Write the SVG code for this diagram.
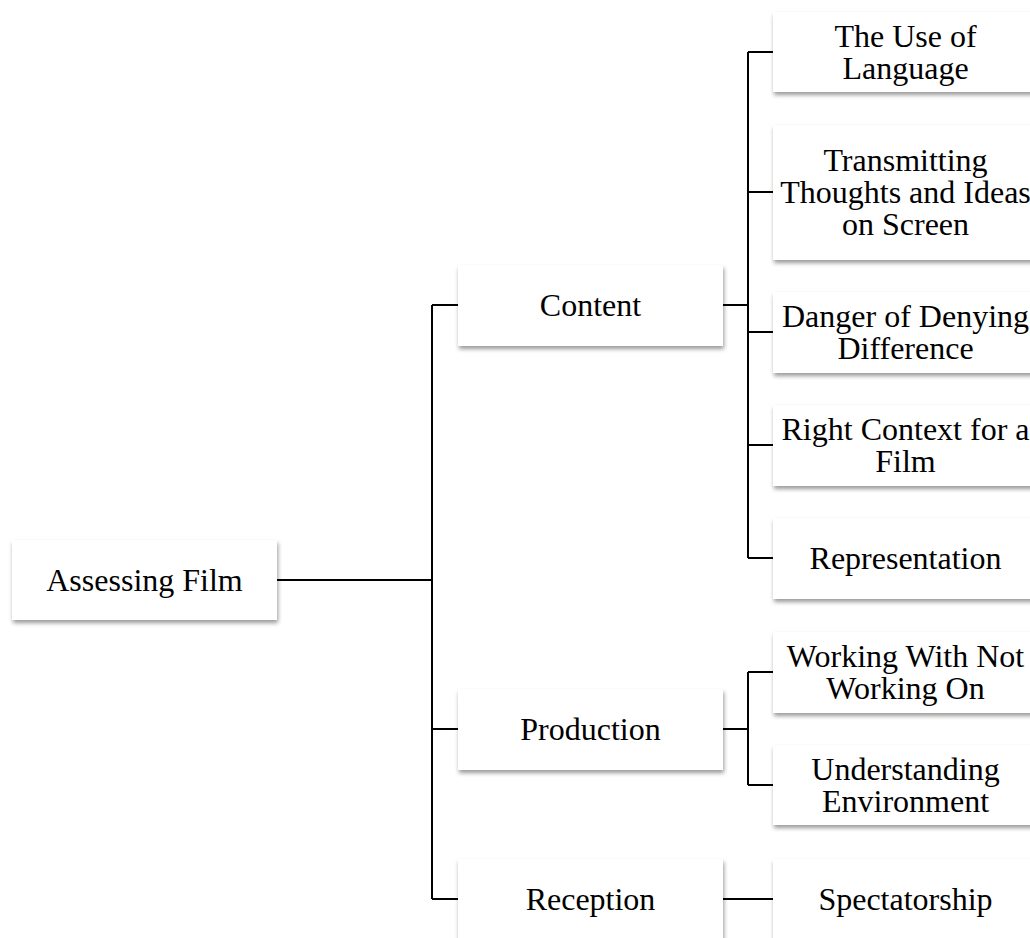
<svg xmlns="http://www.w3.org/2000/svg" width="1030" height="938" viewBox="0 0 1030 938">
<style>
.box{fill:#fff;filter:url(#sh)}
.t{font-family:"Liberation Serif","Times New Roman",serif;font-size:32px;fill:#000;text-anchor:middle}
.c{stroke:#000;stroke-width:2;fill:none}
</style>
<defs>
<filter id="sh" x="-10%" y="-10%" width="120%" height="130%">
<feDropShadow dx="1" dy="3" stdDeviation="2" flood-color="#000" flood-opacity="0.4"/>
</filter>
</defs>
<rect width="1030" height="938" fill="#fff"/>
<g id="connectors" class="c">
<path d="M277 580H432M432 305V899M432 305H458M432 729H458M432 899H458"/>
<path d="M723 305H748M748 52V558M748 52H773M748 192H773M748 332H773M748 445H773M748 558H773"/>
<path d="M723 729H748M748 672V785M748 672H773M748 785H773"/>
<path d="M723 899H773"/>
</g>
<g id="n-assessing"><rect class="box" x="12" y="540" width="265" height="80"/><text class="t" x="144.5" y="591">Assessing Film</text></g>
<g id="n-content"><rect class="box" x="458" y="265" width="265" height="81"/><text class="t" x="590.5" y="316">Content</text></g>
<g id="n-production"><rect class="box" x="458" y="689" width="265" height="81"/><text class="t" x="590.5" y="740">Production</text></g>
<g id="n-reception"><rect class="box" x="458" y="859" width="265" height="81"/><text class="t" x="590.5" y="910">Reception</text></g>
<g id="n-language"><rect class="box" x="773" y="12" width="265" height="80"/><text class="t" x="905.5" y="47">The Use of</text><text class="t" x="905.5" y="79">Language</text></g>
<g id="n-transmitting"><rect class="box" x="773" y="125" width="265" height="135"/><text class="t" x="905.5" y="171">Transmitting</text><text class="t" x="905.5" y="203">Thoughts and Ideas</text><text class="t" x="905.5" y="235">on Screen</text></g>
<g id="n-danger"><rect class="box" x="773" y="292" width="265" height="81"/><text class="t" x="905.5" y="327">Danger of Denying</text><text class="t" x="905.5" y="359">Difference</text></g>
<g id="n-context"><rect class="box" x="773" y="405" width="265" height="81"/><text class="t" x="905.5" y="440">Right Context for a</text><text class="t" x="905.5" y="472">Film</text></g>
<g id="n-representation"><rect class="box" x="773" y="518" width="265" height="81"/><text class="t" x="905.5" y="569">Representation</text></g>
<g id="n-working"><rect class="box" x="773" y="632" width="265" height="81"/><text class="t" x="905.5" y="667">Working With Not</text><text class="t" x="905.5" y="699">Working On</text></g>
<g id="n-understanding"><rect class="box" x="773" y="745" width="265" height="80"/><text class="t" x="905.5" y="780">Understanding</text><text class="t" x="905.5" y="812">Environment</text></g>
<g id="n-spectatorship"><rect class="box" x="773" y="859" width="265" height="81"/><text class="t" x="905.5" y="910">Spectatorship</text></g>
</svg>
